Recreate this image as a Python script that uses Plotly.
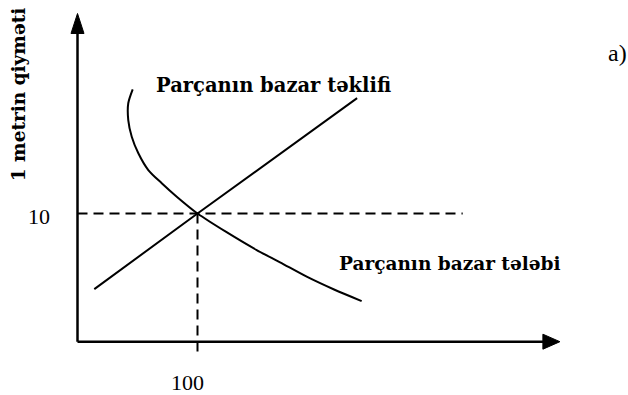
import plotly.graph_objects as go

# Supply and demand for fabric (quantity in metres, price per metre)
supply_q = [14, 100, 233]
supply_p = [4.1, 10.0, 19.0]

demand_q = [46.0, 42.3, 42.3, 45.2, 50.7, 59.0, 70.2, 82.7, 100.0, 124.6, 149.3, 168.8, 191.0, 213.8, 236.8]
demand_p = [19.69, 18.6, 17.29, 15.99, 14.7, 13.39, 12.36, 11.31, 10.0, 8.52, 7.15, 6.19, 5.07, 4.07, 3.17]

eq_q, eq_p = 100, 10
x_tick_labels = ["100"]
y_tick_labels = ["10"]

supply_label = "Parçanın bazar təklifi"
demand_label = "Parçanın bazar tələbi"
y_title = "1 metrin qiymәti"
panel_label = "a)"

# scale: pixels per data unit (used for arrowheads and ranges)
PX_Q = 1.2
PX_P = 12.82
W, H = 628, 395
x0_px, y0_px = 77.5, 341.7

x_range = [-x0_px / PX_Q, (W - x0_px) / PX_Q]
y_range = [-(H - y0_px) / PX_P, y0_px / PX_P]

q_axis_end = 402
p_axis_end = 25.6
dash_q_end = 321
dash_p_end = -1.2

fig = go.Figure()

black = "#000000"

# axes
fig.add_trace(go.Scatter(x=[0, q_axis_end - 10], y=[0, 0], mode="lines",
                         line=dict(color=black, width=2.5), hoverinfo="skip"))
fig.add_trace(go.Scatter(x=[0, 0], y=[0, p_axis_end - 1.0], mode="lines",
                         line=dict(color=black, width=2.5), hoverinfo="skip"))

# arrowheads (sized in pixels, placed at the axis ends)
hl, hw = 17, 7.5
fig.add_trace(go.Scatter(
    x=[q_axis_end, q_axis_end - hl / PX_Q, q_axis_end - hl / PX_Q, q_axis_end],
    y=[0, hw / PX_P, -hw / PX_P, 0],
    mode="lines", fill="toself", fillcolor=black,
    line=dict(color=black, width=1), hoverinfo="skip"))
hl2, hw2 = 20, 6.5
fig.add_trace(go.Scatter(
    x=[0, hw2 / PX_Q, -hw2 / PX_Q, 0],
    y=[p_axis_end, p_axis_end - hl2 / PX_P, p_axis_end - hl2 / PX_P, p_axis_end],
    mode="lines", fill="toself", fillcolor=black,
    line=dict(color=black, width=1), hoverinfo="skip"))

# equilibrium guide lines
fig.add_trace(go.Scatter(x=[0, dash_q_end], y=[eq_p, eq_p], mode="lines",
                         line=dict(color=black, width=2, dash="10px,6px"), hoverinfo="skip"))
fig.add_trace(go.Scatter(x=[eq_q, eq_q], y=[eq_p, dash_p_end], mode="lines",
                         line=dict(color=black, width=2, dash="10px,6px"), hoverinfo="skip"))

# supply and demand curves
fig.add_trace(go.Scatter(x=supply_q, y=supply_p, mode="lines",
                         line=dict(color=black, width=2), hoverinfo="skip"))
fig.add_trace(go.Scatter(x=demand_q, y=demand_p, mode="lines",
                         line=dict(color=black, width=2, shape="spline", smoothing=0.8),
                         hoverinfo="skip"))

label_font = dict(family="DejaVu Serif", size=19.5, color=black)
num_font = dict(family="Liberation Serif", size=22, color=black)

ann = [
    dict(x=63.5, y=20.0, text="<b>" + supply_label + "</b>", xanchor="left", yanchor="middle",
         font=label_font),
    dict(x=216, y=6.1, text="<b>" + demand_label + "</b>", xanchor="left", yanchor="middle",
         font=dict(family="DejaVu Serif", size=18.5, color=black)),
    dict(x=-32.5, y=9.77, text=y_tick_labels[0], xanchor="center", yanchor="middle", font=num_font),
    dict(x=91.25, y=-3.22, text=x_tick_labels[0], xanchor="center", yanchor="middle", font=num_font),
    dict(x=-49.6, y=19.3, text="<b>" + y_title + "</b>", textangle=-90,
         xanchor="center", yanchor="middle", font=dict(family="DejaVu Serif", size=18.5, color=black)),
    dict(x=449.6, y=22.5, text=panel_label, xanchor="center", yanchor="middle",
         font=dict(family="Liberation Serif", size=24, color=black)),
]
for a in ann:
    a.update(xref="x", yref="y", showarrow=False)

fig.update_layout(
    width=W, height=H,
    margin=dict(l=0, r=0, t=0, b=0),
    paper_bgcolor="white", plot_bgcolor="white",
    showlegend=False,
    xaxis=dict(range=x_range, visible=False, fixedrange=True),
    yaxis=dict(range=y_range, visible=False, fixedrange=True),
    annotations=ann,
)

fig.write_html("out.html")
